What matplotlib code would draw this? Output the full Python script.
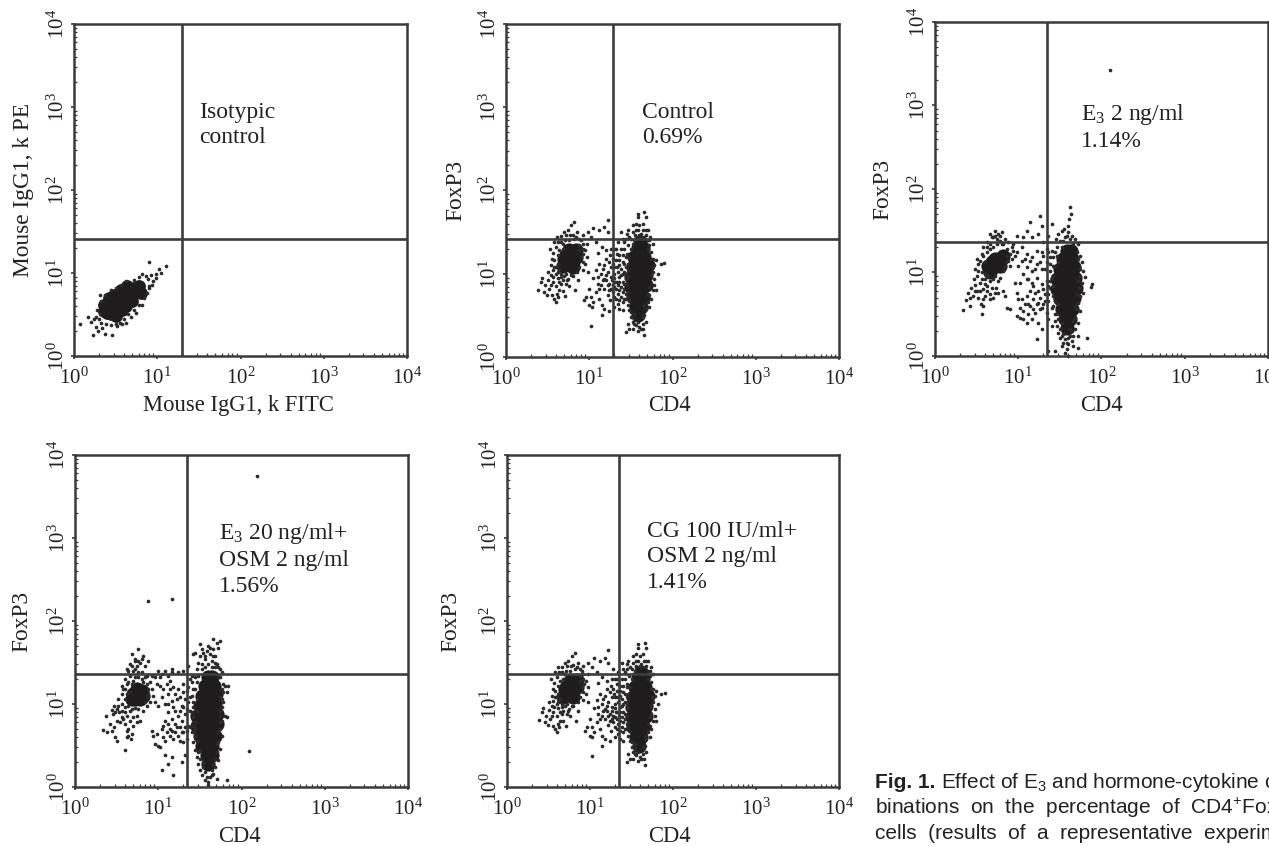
import numpy as np
import matplotlib
matplotlib.use('Agg')
import matplotlib.pyplot as plt

plt.rcParams['font.family'] = ['Liberation Serif', 'DejaVu Serif']
plt.rcParams['mathtext.default'] = 'regular'

W, H = 1269, 846
ink = '#2b2b2b'

# all cloud values are log10 of the channel
# dense cores are drawn with a big dot, the rest as single events
core_a = [(.40,.52),(.45,.57),(.50,.60),(.38,.60),(.44,.66),(.52,.52),(.56,.62),(.50,.70),(.58,.74),
          (.62,.68),(.66,.78),(.70,.74),(.72,.82),(.78,.84),(.76,.78),(.58,.56),(.36,.54),(.44,.50),(.64,.84),
          (.48,.74),(.56,.80),(.50,.48),(.62,.60),(.70,.66),(.80,.76),(.36,.62),(.42,.70)]
dots_a = [(.07,.39),(.17,.47),(.23,.25),(.29,.30),(.37,.26),(.46,.25),(.26,.35),(.21,.41),(.31,.74),
          (.90,1.13),(1.11,1.09),(1.02,1.05),(.98,.99),(.92,.97),(.82,.99),(1.04,1.00),(.95,.90),(.89,.93),
          (.90,.84),(.86,.96),(.78,.95),(.72,.91),(.62,.90),(.57,.86),(.50,.82),(.44,.79),(.37,.74),
          (.32,.66),(.28,.55),(.27,.47),(.30,.44),(.33,.40),(.38,.38),(.44,.37),(.50,.38),(.55,.40),
          (.60,.45),(.65,.50),(.72,.56),(.78,.62),(.84,.70),(.88,.76),(.90,.82),(.62,.40),(.74,.52),
          (.82,.62),(.34,.34),(.24,.45),(.31,.50),(.99,.94),(.94,.86),(.68,.47),(.58,.38),(.52,.36)]

core_b = [(.68,1.09),(.72,1.14),(.76,1.19),(.80,1.24),(.84,1.29),(.72,1.22),(.80,1.14),(.84,1.20),(.76,1.28),(.70,1.18),(.80,1.08),
          (1.59,.50),(1.56,.60),(1.62,.60),(1.52,.72),(1.58,.72),(1.64,.72),(1.50,.84),(1.56,.84),(1.62,.84),
          (1.68,.86),(1.50,.96),(1.56,.96),(1.62,.96),(1.68,.98),(1.52,1.08),(1.58,1.08),(1.64,1.08),(1.70,1.10),
          (1.54,1.20),(1.60,1.20),(1.66,1.20),(1.58,1.31),(1.64,1.31),(1.61,1.38)]
dots_b = [(.38,.81),(.42,.90),(.43,.95),(.47,.86),(.50,.93),(.46,.78),(.52,.82),(.55,.74),(.58,.70),(.60,.66),
          (.63,.72),(.56,.90),(.60,.85),(.62,.95),(.66,.88),(.68,.79),(.71,.73),(.73,.92),(.76,.85),(.83,.80),
          (.86,.92),(.80,.97),(.50,1.02),(.54,1.10),(.56,1.04),(.58,1.16),(.60,1.00),(.62,1.22),(.64,1.06),
          (.57,1.25),(.60,1.32),(.63,1.38),(.66,1.45),(.68,1.30),(.71,1.40),(.74,1.52),(.78,1.58),(.82,1.62),
          (.80,1.47),(.85,1.50),(.88,1.42),(.92,1.36),(.95,1.28),(.90,1.20),(.95,1.12),(.92,1.05),(.88,1.08),
          (.85,1.02),(.78,.98),(.72,1.00),(.98,1.02),(.66,.96),(.70,.97),(.62,1.12),(.64,1.28),(.76,1.40),
          (.72,1.46),(.84,1.44),(.92,1.46),(.88,1.34),(.93,1.24),(.69,1.36),(.75,.94),(.60,1.08),(.57,.96),
          (.97,1.20),(.54,.86),(.49,.75),(.64,.80),(.61,.76),
          (1.00,.82),(1.02,.72),(1.05,.66),(1.08,.78),(1.10,.88),(1.12,.70),(1.15,.62),(1.18,.82),(1.20,.92),
          (1.22,.75),(1.25,.68),(1.28,.86),(1.05,.95),(1.08,1.05),(1.14,1.00),(1.18,1.10),(1.22,1.02),(1.26,.96),
          (1.30,1.08),(1.33,.90),(1.36,.80),(1.38,.98),(1.40,1.14),(1.30,.72),(1.34,.64),(1.10,1.25),(1.15,1.32),
          (1.08,1.38),(1.02,1.44),(.98,1.50),(1.05,1.55),(1.12,1.52),(1.18,1.56),(1.22,1.50),(1.28,1.42),(1.32,1.30),
          (1.36,1.22),(1.25,1.22),(1.20,1.28),(1.28,1.18),(1.42,1.30),(1.40,1.42),(1.02,.37),(1.15,.50),(1.22,1.65),
          (1.18,.58),(1.24,.55),(.96,.72),(.94,.68),(1.00,.62),(1.03,.60),(1.12,.82),(1.16,.92),(1.24,.88),(1.30,.95),
          (1.34,1.02),(1.36,1.10),(1.32,1.16),(1.40,.90),(1.42,1.02),(1.38,.72),(1.42,.82),(1.44,.94),(1.44,1.08),
          (1.44,1.20),(1.34,1.38),(1.38,1.50),(1.45,1.48),(1.48,1.44),(1.26,1.08),(1.20,.98),(1.16,1.06),(1.12,1.12),
          (1.24,.80),(1.28,.78),(1.32,.82),(1.36,.90),(1.26,1.30),(1.30,.60),(1.40,.66),(1.36,.58),
          (1.46,.62),(1.44,.70),(1.46,.78),(1.45,.86),(1.44,1.00),(1.46,1.12),(1.45,1.24),(1.47,1.34),(1.50,1.42),
          (1.52,1.50),(1.55,1.46),(1.58,1.52),(1.60,1.58),(1.62,1.48),(1.65,1.52),(1.68,1.46),(1.70,1.40),(1.72,1.34),
          (1.74,1.26),(1.76,1.18),(1.78,1.10),(1.76,1.02),(1.78,.94),(1.74,.88),(1.76,.80),(1.72,.74),(1.78,.86),
          (1.70,.66),(1.68,.58),(1.66,.50),(1.68,.42),(1.64,.40),(1.60,.36),(1.56,.38),(1.52,.42),(1.50,.48),
          (1.48,.56),(1.54,.52),(1.46,.40),(1.44,.30),(1.66,.27),(1.56,1.60),(1.58,1.68),(1.68,1.68),(1.58,1.72),
          (1.66,1.74),(1.54,1.40),(1.64,1.60),(1.70,1.52),(1.86,1.12),(1.90,1.13),(1.82,1.00),(1.80,1.16),(1.72,.60),
          (1.40,.56),(1.73,1.44),(1.76,1.36),(1.46,1.52),(1.52,1.58),(1.74,.70),(1.80,.80),(1.52,.34),(1.58,.31),
          (1.65,.34),(1.48,.34)]
halo_b = [(.55,1.18),(.53,1.30),(.58,1.38),(.61,1.44),(.66,1.38),(.70,1.50),(.77,1.46),(.82,1.42),(.88,1.28),(.92,1.14),
          (.62,1.02),(.66,1.00),(.58,1.08),(.54,.98),(.68,.92),(.72,.88),(.64,.90),(.92,1.30),(.97,1.36),(.90,1.40),
          (1.30,1.00),(1.33,1.08),(1.36,.96),(1.38,1.06),(1.40,1.00),(1.42,.88),(1.40,.78),(1.38,.84),(1.34,.76),(1.30,.84),
          (1.26,.82),(1.22,.86),(1.18,.94),(1.14,.86),(1.10,.96),(1.36,1.16),(1.40,1.22),(1.38,1.30),(1.33,1.24),(1.30,1.30),
          (1.27,.92),(1.31,.90),(1.35,.86),(1.29,1.12),(1.24,1.14),(1.20,1.18),(1.42,1.12),(1.44,.76),(1.42,.70),(1.36,.68),
          (1.46,.96),(1.46,1.04),(1.48,1.20),(1.50,1.30),(1.52,1.36),(1.56,1.44),(1.62,1.44),(1.66,1.44),(1.70,1.30),(1.74,1.18),
          (1.75,1.08),(1.74,.98),(1.72,.84),(1.70,.76),(1.66,.62),(1.64,.48),(1.58,.42),(1.54,.46),(1.48,.68),(1.46,.72),
          (1.60,1.46),(1.56,1.52),(1.68,1.52),(1.72,1.40),(1.50,.54),(1.54,.40),(1.62,.34),(1.42,1.38),(1.44,1.42),(1.32,.70)]

core_c = [(.66,1.00),(.70,1.06),(.74,1.12),(.78,1.16),(.82,1.20),(.72,1.16),(.78,1.08),(.68,1.12),(.64,1.08),
          (1.58,.34),(1.56,.44),(1.62,.44),(1.52,.56),(1.58,.56),(1.64,.56),(1.50,.68),(1.56,.68),(1.62,.68),
          (1.67,.70),(1.46,.80),(1.52,.80),(1.58,.80),(1.64,.80),(1.69,.82),(1.46,.92),(1.52,.92),(1.58,.92),
          (1.64,.92),(1.68,.94),(1.50,1.04),(1.56,1.04),(1.62,1.04),(1.67,1.06),(1.54,1.16),(1.60,1.16),
          (1.65,1.16),(1.58,1.26),(1.63,1.26)]
dots_c = [(.37,.67),(.40,.75),(.43,.81),(.46,.72),(.48,.85),(.50,.78),(.52,.70),(.55,.62),(.58,.60),(.54,.88),
          (.58,.80),(.60,.92),(.63,.84),(.66,.74),(.70,.70),(.73,.82),(.76,.76),(.82,.78),(.84,.72),(.50,.96),
          (.48,1.04),(.52,1.10),(.56,1.00),(.60,.98),(.50,1.16),(.56,1.22),(.60,1.12),(.58,1.30),(.62,1.36),
          (.66,1.28),(.70,1.42),(.72,1.50),(.76,1.46),(.74,1.34),(.80,1.48),(.84,1.40),(.88,1.36),(.92,1.30),
          (.90,1.22),(.94,1.26),(.86,1.28),(.80,1.34),(.85,1.12),(.90,1.08),(.82,1.02),(.78,.94),(.70,.92),(.64,.96),
          (.54,.78),(.47,.92),(.42,.69),(.34,.55),(.42,.60),(.86,.58),(.90,.56),(.56,.50),(.60,.72),(.68,.82),
          (.96,.88),(.98,.76),(1.00,.68),(1.02,.58),(.98,.48),(1.02,.46),(1.06,.44),(1.10,.40),(1.04,.68),(1.08,.62),
          (1.12,.50),(1.16,.44),(1.20,.52),(1.24,.40),(1.28,.32),(1.22,.20),(1.14,.60),(1.18,.68),(1.22,.62),(1.26,.56),
          (1.30,.62),(1.34,.52),(1.36,.44),(1.40,.36),(1.10,.72),(1.14,.78),(1.20,.76),(1.26,.70),(1.32,.74),(1.36,.66),
          (1.02,.88),(1.06,.98),(1.10,.92),(1.16,.88),(1.22,.94),(1.28,.86),(1.34,.90),(1.38,.82),(1.00,1.08),(1.04,1.14),
          (1.10,1.06),(1.16,1.02),(1.22,1.10),(1.28,1.04),(1.34,1.12),(1.38,1.02),(1.42,.96),(.98,1.24),(1.04,1.30),
          (1.10,1.22),(1.16,1.18),(1.22,1.26),(1.30,1.20),(1.36,1.24),(1.42,1.18),(.98,1.44),(1.06,1.42),(1.10,1.50),
          (1.14,1.60),(1.17,1.42),(1.24,1.46),(1.30,1.36),(1.28,1.56),(1.26,1.68),(1.40,1.58),(1.36,1.44),(1.45,1.40),
          (1.42,.72),(1.42,.60),(1.44,.50),(1.38,.90),(1.44,1.08),(1.40,1.26),(1.46,1.30),(1.50,1.38),(1.48,1.46),
          (1.52,1.50),(1.56,1.42),(1.60,1.48),(1.64,1.44),(1.68,1.40),(1.72,1.34),(1.60,1.56),(1.63,1.70),(1.62,1.78),
          (1.61,1.64),(1.55,1.52),(1.70,1.24),(1.74,1.20),(1.76,1.12),(1.78,1.02),(1.74,.96),(1.76,.88),(1.80,.95),
          (1.73,.82),(1.74,.72),(1.72,.64),(1.70,.56),(1.74,.54),(1.68,.46),(1.72,.40),(1.68,.32),(1.66,.24),(1.72,.10),
          (1.64,.18),(1.60,.14),(1.58,.08),(1.56,.04),(1.60,.00),(1.54,.16),(1.50,.22),(1.48,.28),(1.46,.36),(1.46,.50),
          (1.52,.12),(1.44,.06),(1.36,.06),(1.82,.22),(1.88,.86),(1.87,.83),(1.44,1.24),(1.48,.62),(1.54,.26),(1.62,.24),
          (1.72,.24),(1.78,.76),(2.10,3.42)]
halo_c = [(.54,1.14),(.58,1.20),(.62,1.24),(.66,1.34),(.70,1.30),(.62,1.30),(.68,1.42),(.74,1.40),(.78,1.38),(.82,1.34),
          (.86,1.20),(.88,1.14),(.84,1.06),(.72,.96),(.66,.90),(.60,.86),(.56,.92),(.52,1.02),(.48,.78),(.58,.68),
          (.62,.78),(.66,.68),(.72,.76),(.76,.90),(.92,1.16),(.96,1.20),(.94,1.34),(.66,1.46),(.72,1.44),(.78,1.44),
          (1.06,.54),(1.12,.62),(1.18,.56),(1.24,.64),(1.28,.58),(1.32,.66),(1.36,.74),(1.12,.92),(1.18,.84),(1.24,.78),
          (1.30,.80),(1.36,.84),(1.40,.94),(1.38,1.10),(1.32,1.04),(1.26,1.12),(1.20,1.04),(1.14,1.14),(1.08,1.16),(1.28,1.24),
          (1.34,1.28),(1.38,1.18),(1.42,1.08),(1.42,.84),(1.44,.66),(1.40,.58),(1.44,.42),(1.48,.44),(1.50,.32),(1.52,.40),
          (1.46,1.20),(1.48,1.12),(1.52,1.30),(1.54,1.38),(1.58,1.44),(1.62,1.40),(1.66,1.34),(1.72,1.16),(1.74,1.04),(1.72,.90),
          (1.70,.74),(1.68,.60),(1.66,.42),(1.64,.30),(1.60,.22),(1.56,.20),(1.52,.24),(1.62,.32),(1.58,.16),(1.66,.12)]

core_d = [(.72,1.06),(.76,1.12),(.80,1.16),(.70,1.12),(.78,1.06),(.74,1.18),(.68,1.06),(.82,1.10),
          (1.60,.28),(1.58,.38),(1.64,.38),(1.53,.50),(1.59,.50),(1.65,.50),(1.50,.62),(1.56,.62),(1.62,.62),
          (1.68,.62),(1.47,.74),(1.53,.74),(1.59,.74),(1.65,.74),(1.71,.76),(1.46,.86),(1.52,.86),(1.58,.86),
          (1.64,.86),(1.70,.88),(1.50,.98),(1.56,.98),(1.62,.98),(1.68,1.00),(1.52,1.10),(1.58,1.10),(1.64,1.10),
          (1.69,1.12),(1.56,1.22),(1.62,1.22),(1.67,1.22),(1.60,1.32),(1.65,1.32)]
dots_d = [(.34,.69),(.38,.66),(.37,.85),(.42,.76),(.44,.68),(.47,.72),(.50,.79),(.46,.88),(.44,.93),(.47,.98),
          (.50,.94),(.53,.90),(.56,.84),(.60,.76),(.62,.68),(.64,.62),(.68,.64),(.62,.86),(.66,.80),(.70,.74),
          (.74,.86),(.78,.80),(.72,.95),(.66,.92),(.60,.96),(.56,1.00),(.52,1.06),(.56,1.12),(.60,1.06),(.58,1.18),
          (.62,1.24),(.60,1.30),(.66,1.34),(.62,1.42),(.66,1.48),(.70,1.40),(.74,1.46),(.68,1.60),(.72,1.54),(.76,1.66),
          (.78,1.50),(.82,1.58),(.84,1.46),(.88,1.52),(.80,1.38),(.86,1.34),(.90,1.26),(.92,1.18),(.94,1.10),(.90,1.02),
          (.86,.98),(.82,.92),(.96,1.02),(.70,1.28),(.76,1.32),(.82,1.26),(.88,1.18),(.66,1.14),(.62,1.12),(.86,1.08),
          (.60,.45),(.50,.56),(.48,.60),(.62,.60),(.67,.58),
          (.92,.68),(.94,.62),(.96,.52),(1.00,.50),(1.02,.48),(.98,.64),(1.04,.70),(1.06,.60),(1.08,.56),(1.10,.66),
          (1.12,.76),(1.14,.62),(1.16,.68),(1.18,.58),(1.20,.66),(1.22,.72),(1.24,.62),(1.26,.56),(1.28,.66),(1.30,.54),
          (1.34,.58),(1.32,.72),(1.08,.38),(1.12,.28),(1.04,.20),(1.16,.36),(1.18,.14),(1.28,.30),(1.32,.38),
          (1.08,.80),(1.12,.90),(1.16,.82),(1.20,.92),(1.24,.86),(1.28,.80),(1.32,.88),(1.36,.74),(1.40,.66),(1.38,.92),
          (1.00,.98),(1.04,1.08),(1.08,1.00),(1.12,1.12),(1.16,1.04),(1.22,1.06),(1.28,.98),(1.32,1.06),(1.36,1.02),
          (1.40,1.10),(1.42,.96),(1.02,1.22),(1.06,1.18),(1.10,1.24),(1.18,1.20),(1.24,1.18),(1.30,1.24),(1.36,1.20),
          (1.40,1.26),(.96,1.32),(1.00,1.40),(1.04,1.36),(1.08,1.40),(1.12,1.34),(1.16,1.38),(1.14,1.28),(1.02,1.32),
          (1.16,1.42),(1.24,1.38),(1.30,1.40),(1.36,1.46),(1.38,1.30),
          (1.44,.44),(1.42,.54),(1.44,.62),(1.44,.78),(1.42,.84),(1.42,1.02),(1.44,1.18),(1.44,1.32),(1.46,1.42),(1.48,1.50),
          (1.44,1.62),(1.42,1.60),(1.50,1.58),(1.52,1.66),(1.50,1.72),(1.56,1.54),(1.58,1.64),(1.62,1.60),(1.60,1.70),
          (1.64,1.52),(1.66,1.66),(1.68,1.58),(1.70,1.74),(1.74,1.76),(1.72,1.68),(1.70,1.48),(1.74,1.42),(1.76,1.38),
          (1.72,1.32),(1.78,1.24),(1.80,1.22),(1.84,1.22),(1.82,1.14),(1.78,1.14),(1.74,1.08),(1.78,1.02),(1.76,.96),
          (1.80,.86),(1.82,.84),(1.76,.80),(1.74,.70),(1.76,.62),(1.72,.54),(1.74,.46),(1.70,.42),(1.72,.32),(1.68,.24),
          (1.66,.16),(1.70,.10),(1.62,.12),(1.60,.06),(1.56,.08),(1.60,.02),(1.52,.14),(1.50,.20),(1.54,.24),(1.48,.28),
          (1.46,.36),(1.50,.34),(1.82,.09),(1.66,1.78),(2.09,.43),(.88,2.24),(1.165,2.26),(2.19,3.75),(1.56,.18),(1.64,.20),
          (1.46,.92),(1.74,.86),(1.52,1.42),(1.60,1.48),(1.68,1.44)]
halo_d = [(.56,1.22),(.60,1.18),(.64,1.26),(.68,1.24),(.72,1.32),(.64,1.40),(.68,1.46),(.72,1.42),(.76,1.38),(.80,1.30),
          (.84,1.32),(.86,1.24),(.88,1.12),(.84,1.02),(.76,.94),(.68,.94),(.64,.98),(.60,.90),(.56,.92),(.52,.98),(.48,.90),
          (.54,.78),(.58,.82),(.64,.70),(.74,.78),(.70,.84),(.72,1.52),(.76,1.52),(.80,1.54),(.92,1.34),(.98,1.24),
          (1.06,.74),(1.14,.70),(1.20,.76),(1.26,.72),(1.30,.66),(1.34,.68),(1.38,.72),(1.12,1.00),(1.18,.96),(1.26,.92),
          (1.30,.96),(1.34,.94),(1.38,1.08),(1.34,1.16),(1.26,1.08),(1.20,1.12),(1.14,1.18),(1.30,1.14),(1.42,1.18),(1.40,1.34),
          (1.46,1.26),(1.48,1.34),(1.52,1.48),(1.56,1.44),(1.64,1.44),(1.68,1.50),(1.72,1.44),(1.74,1.32),(1.76,1.18),(1.76,1.06),
          (1.74,.92),(1.74,.78),(1.72,.66),(1.70,.52),(1.68,.34),(1.66,.28),(1.64,.14),(1.58,.12),(1.54,.30),(1.50,.44),
          (1.46,.56),(1.48,.42),(1.44,.70),(1.42,.74),(1.40,.90),(1.46,1.06),(1.56,1.58),(1.54,1.62),(1.62,1.68),(1.66,1.58)]

# panel E is the same acquisition look as panel B
core_e = core_b
dots_e = dots_b
halo_e = halo_b

x_labels = ['Mouse IgG1, k FITC', 'CD4', 'CD4', 'CD4', 'CD4']
y_labels = ['Mouse IgG1, k PE', 'FoxP3', 'FoxP3', 'FoxP3', 'FoxP3']
gate_x = [1.30, 1.285, 1.345, 1.345, 1.345]
gate_y = [1.41, 1.42, 1.37, 1.36, 1.36]
notes = ['Isotypic\ncontrol', 'Control\n0.69%', 'E$_3$ 2 ng/ml\n1.14%',
         'E$_3$ 20 ng/ml+\nOSM 2 ng/ml\n1.56%', 'CG 100 IU/ml+\nOSM 2 ng/ml\n1.41%']
cores = [core_a, core_b, core_c, core_d, core_e]
clouds = [dots_a, dots_b + halo_b, dots_c + halo_c, dots_d + halo_d, dots_e + halo_e]
decades = [0, 1, 2, 3, 4]
tick_labels = ['$10^{%d}$' % d for d in decades]

# pixel boxes: left, top, right, bottom / note x, note y / xlabel y, ylabel x
boxes = [(74, 24, 407, 356), (506, 24, 839, 357), (935, 22, 1268, 356), (75, 455, 408, 787), (507, 455, 839, 787)]
note_xy = [(199, 102), (642, 102), (1081, 102), (219, 521), (647, 521)]
xlab_y = [405, 405, 405, 836, 836]
ylab_x = [24, 456, 883, 22, 451]
xlab_c = [238, 669, 1101, 239, 669]
bx = [0, 1, 2, 3, 4]

fig = plt.figure(figsize=(W / 100, H / 100), dpi=100, facecolor='white')

for i in bx:
    l, t, r, b = boxes[i]
    ax = fig.add_axes([l / W, 1 - b / H, (r - l) / W, (b - t) / H])
    ax.set_xscale('log')
    ax.set_yscale('log')
    ax.set_xlim(1, 1e4)
    ax.set_ylim(1, 1e4)

    cx, cy = zip(*cores[i])
    dx, dy = zip(*clouds[i])
    size = 105 if i != 0 else 85
    ax.scatter(10 ** np.array(cx), 10 ** np.array(cy), s=size, c='#1f1c1d', linewidths=0, zorder=2)
    ax.scatter(10 ** np.array(dx), 10 ** np.array(dy), s=7, c=ink, linewidths=0, zorder=3, clip_on=False)

    ax.axvline(10 ** gate_x[i], color='#3d3d3d', lw=1.9, zorder=4)
    ax.axhline(10 ** gate_y[i], color='#3d3d3d', lw=1.9, zorder=4)

    for s in ax.spines.values():
        s.set_linewidth(1.8)
        s.set_color('#3a3a3a')
        s.set_zorder(5)

    ax.set_xticks([10.0 ** d for d in decades], tick_labels, fontsize=15, color='#222222')
    ax.set_yticks([10.0 ** d for d in decades], tick_labels, fontsize=15, color='#222222', rotation=90, va='center')
    ax.tick_params(which='major', length=2.5, width=1.2, color='#3a3a3a', direction='out', pad=6)
    ax.tick_params(which='minor', length=2, width=0.9, color='#3a3a3a', direction='in')
    ax.tick_params(axis='y', which='major', pad=1)
    for lbl in ax.get_xticklabels() + ax.get_yticklabels():
        lbl.set_clip_on(False)

    fig.text(xlab_c[i] / W, 1 - xlab_y[i] / H, x_labels[i], fontsize=16.3, color='#222222', ha='center', va='center')
    fig.text(ylab_x[i] / W, 1 - ((t + b) / 2) / H, y_labels[i], fontsize=16.8, color='#222222', rotation=90, ha='center', va='center')
    fig.text(note_xy[i][0] / W, 1 - note_xy[i][1] / H, notes[i], fontsize=17, color='#222222', ha='left', va='top', linespacing=1.28)

# caption runs off the right edge, same as the source crop
sans = ['Liberation Sans', 'DejaVu Sans']
fig.text(875 / W, 1 - 782 / H, 'Fig. 1.', fontsize=15, fontweight='bold', family=sans, color='#222222', va='center')
fig.text(941 / W, 1 - 782 / H, 'Effect of E$_3$ and hormone-cytokine com-', fontsize=15, family=sans, color='#222222', va='center')
fig.text(875 / W, 1 - 808 / H, 'binations  on  the  percentage  of  CD4$^{+}$FoxP3$^{+}$', fontsize=15, family=sans, color='#222222', va='center')
fig.text(875 / W, 1 - 833 / H, 'cells  (results  of  a  representative  experiment)', fontsize=15, family=sans, color='#222222', va='center')

fig.savefig('out.png', dpi=100, facecolor='white')
